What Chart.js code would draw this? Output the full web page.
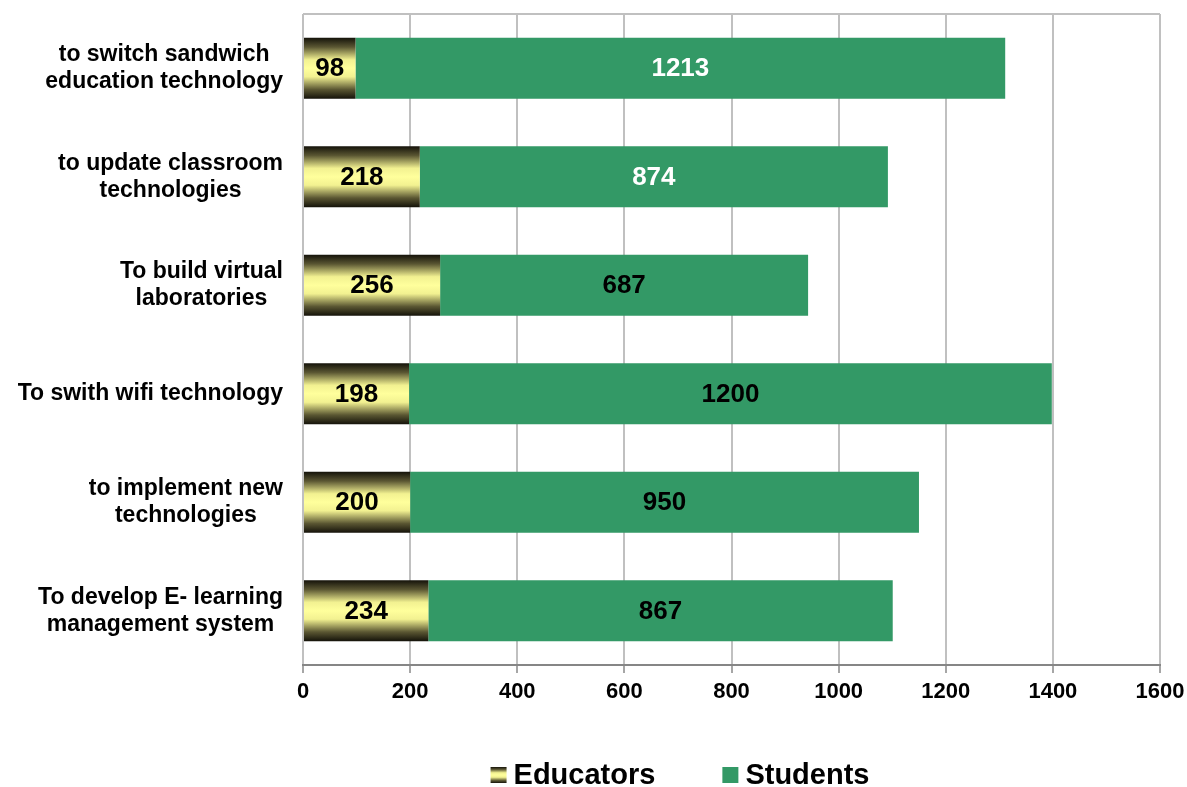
<!DOCTYPE html>
<html>
<head>
<meta charset="utf-8">
<script src="https://cdn.jsdelivr.net/npm/chart.js@4.4.0/dist/chart.umd.min.js"></script>
<style>
  html, body { margin: 0; padding: 0; background: #fff; }
  #wrap { width: 1187px; height: 787px; }
</style>
</head>
<body>
<div id="wrap"><canvas id="chart"></canvas></div>
<script>
// categories, top to bottom
const categories = [
    ['to switch sandwich', 'education technology'],
    ['to update classroom', 'technologies'],
    ['To build virtual', 'laboratories'],
    'To swith wifi technology',
    ['to implement new', 'technologies'],
    ['To develop E- learning', 'management system']
];
const educators = [98, 218, 256, 198, 200, 234];
const students = [1213, 874, 687, 1200, 950, 867];
const seriesNames = ['Educators', 'Students'];
const xTickMin = 0;
const xTickMax = 1600;
const xTickStep = 200;

const FONT = "'Liberation Sans', Arial, sans-serif";
const GREEN = '#339966';
const BAR_PCT = 0.56;
const whiteLabelRows = [0, 1]; // student values written in white

function addYellowStops(g) {
    g.addColorStop(0, '#15130a');
    g.addColorStop(0.15, '#5a5632');
    g.addColorStop(0.36, '#f2f191');
    g.addColorStop(0.5, '#ffff9c');
    g.addColorStop(0.64, '#f2f191');
    g.addColorStop(0.85, '#5a5632');
    g.addColorStop(1, '#15130a');
    return g;
}

// vertical gradient per bar (dark - yellow - dark)
function educatorFill(ctx) {
    const chart = ctx.chart;
    const area = chart.chartArea;
    const yScale = chart.scales.y;
    if (!area || !yScale || ctx.dataIndex === undefined) return '#ffff99';
    const yc = yScale.getPixelForTick(ctx.dataIndex);
    const half = (area.bottom - area.top) / chart.data.labels.length * BAR_PCT / 2;
    return addYellowStops(chart.ctx.createLinearGradient(0, yc - half, 0, yc + half));
}

// numbers in the middle of each bar
const valueLabels = {
    id: 'valueLabels',
    afterDatasetsDraw(chart) {
        const c = chart.ctx;
        c.save();
        c.font = 'bold 26px ' + FONT;
        c.textAlign = 'center';
        c.textBaseline = 'middle';
        chart.data.datasets.forEach((ds, di) => {
            chart.getDatasetMeta(di).data.forEach((bar, i) => {
                const p = bar.getCenterPoint();
                c.fillStyle = (di === 1 && whiteLabelRows.includes(i)) ? '#ffffff' : '#000000';
                c.fillText(String(ds.data[i]), p.x, p.y + 1);
            });
        });
        c.restore();
    }
};

// category labels: block right aligned, lines centred in the block
const categoryLabels = {
    id: 'categoryLabels',
    afterDraw(chart) {
        const y = chart.scales.y;
        const c = chart.ctx;
        const lh = 27;
        c.save();
        c.font = 'bold 23px ' + FONT;
        c.fillStyle = '#000';
        c.textAlign = 'center';
        c.textBaseline = 'middle';
        chart.data.labels.forEach((lab, i) => {
            const lines = Array.isArray(lab) ? lab : [lab];
            const w = Math.max(...lines.map(l => c.measureText(l).width));
            const cx = y.right - 20 - w / 2;
            const yc = y.getPixelForTick(i);
            lines.forEach((l, k) => {
                c.fillText(l, cx, yc + (k - (lines.length - 1) / 2) * lh);
            });
        });
        c.restore();
    }
};

// legend at the bottom
const bottomLegend = {
    id: 'bottomLegend',
    afterDraw(chart) {
        const c = chart.ctx;
        const box = 16, gap = 7, itemGap = 67;
        const centerX = 680, centerY = 775;
        c.save();
        c.font = 'bold 29px ' + FONT;
        c.textBaseline = 'middle';
        c.textAlign = 'left';
        const widths = chart.data.datasets.map(ds => box + gap + c.measureText(ds.label).width);
        const total = widths.reduce((a, b) => a + b, 0) + itemGap * (widths.length - 1);
        let x = centerX - total / 2;
        chart.data.datasets.forEach((ds, di) => {
            const top = centerY - box / 2;
            if (di === 0) {
                c.fillStyle = addYellowStops(c.createLinearGradient(0, top, 0, top + box));
            } else {
                c.fillStyle = GREEN;
            }
            c.fillRect(x, top, box, box);
            c.fillStyle = '#000';
            c.fillText(ds.label, x + box + gap, centerY + 1);
            x += widths[di] + itemGap;
        });
        c.restore();
    }
};

new Chart(document.getElementById('chart').getContext('2d'), {
    type: 'bar',
    data: {
        labels: categories,
        datasets: [{
            label: seriesNames[0],
            data: educators,
            backgroundColor: educatorFill,
            barPercentage: BAR_PCT,
            categoryPercentage: 1
        }, {
            label: seriesNames[1],
            data: students,
            backgroundColor: GREEN,
            barPercentage: BAR_PCT,
            categoryPercentage: 1
        }]
    },
    options: {
        indexAxis: 'y',
        responsive: true,
        maintainAspectRatio: false,
        animation: false,
        layout: { padding: { top: 14, right: 0, left: 0, bottom: 80 } },
        plugins: {
            legend: { display: false },
            tooltip: { enabled: false }
        },
        scales: {
            x: {
                stacked: true,
                min: xTickMin,
                max: xTickMax,
                ticks: {
                    stepSize: xTickStep,
                    color: '#000',
                    padding: 6,
                    font: { family: FONT, size: 22, weight: 'bold' },
                    callback: v => String(v)
                },
                grid: { color: '#c0c0c0', lineWidth: 2, tickLength: 8, tickColor: '#a6a6a6' },
                border: { color: '#868686', width: 2 },
                afterFit(s) { s.height = 42; s.paddingRight = 27; }
            },
            y: {
                stacked: true,
                ticks: { display: false },
                grid: {
                    color: c => c.index === 0 ? '#c0c0c0' : 'rgba(0,0,0,0)',
                    lineWidth: 2,
                    drawTicks: false
                },
                border: { display: false },
                afterFit(s) { s.width = 303; }
            }
        }
    },
    plugins: [valueLabels, categoryLabels, bottomLegend]
});
</script>
</body>
</html>
